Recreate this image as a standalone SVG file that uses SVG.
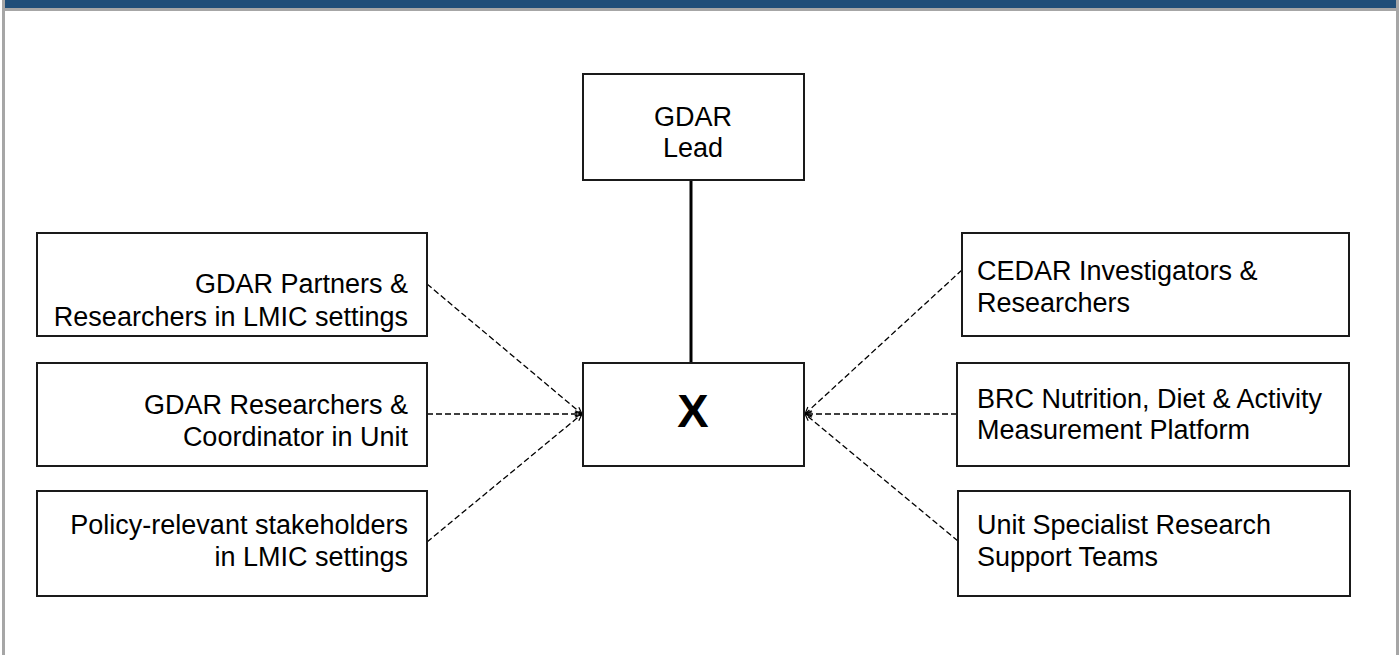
<svg xmlns="http://www.w3.org/2000/svg" width="1399" height="655" viewBox="0 0 1399 655">
<defs>
<style>
.box{fill:#fff;stroke:#1a1a1a;stroke-width:2}
.t{font-family:"Liberation Sans",Arial,sans-serif;font-size:27px;fill:#000}
.r{text-anchor:end}
.c{text-anchor:middle}
.dash{fill:none;stroke:#000;stroke-width:1.3;stroke-dasharray:6 3}
</style>
<marker id="arr" viewBox="0 0 10 10" refX="9.5" refY="5" markerWidth="8" markerHeight="8" markerUnits="userSpaceOnUse" orient="auto">
<path d="M1,1 L9.5,5 L1,9" fill="none" stroke="#000" stroke-width="1.5"/>
</marker>
</defs>
<rect x="0" y="0" width="1399" height="655" fill="#fff"/>
<g id="frame">
<rect x="5" y="0" width="1391" height="8" fill="#1f4e79"/>
<rect x="5" y="8" width="1391" height="3" fill="#a6a6a6"/>
<rect x="2" y="0" width="3" height="655" fill="#a6a6a6"/>
<rect x="1396" y="0" width="3" height="655" fill="#a6a6a6"/>
</g>
<g id="connectors">
<line x1="691" y1="180" x2="691" y2="363" stroke="#000" stroke-width="3"/>
<line class="dash" x1="427" y1="284" x2="582" y2="414" marker-end="url(#arr)"/>
<line class="dash" x1="427" y1="414" x2="582" y2="414" marker-end="url(#arr)"/>
<line class="dash" x1="427" y1="542" x2="582" y2="414" marker-end="url(#arr)"/>
<line class="dash" x1="962" y1="270" x2="805" y2="414" marker-end="url(#arr)"/>
<line class="dash" x1="957" y1="414" x2="805" y2="414" marker-end="url(#arr)"/>
<line class="dash" x1="958" y1="541" x2="805" y2="414" marker-end="url(#arr)"/>
</g>
<g id="lead">
<rect class="box" x="583" y="74" width="221" height="106"/>
<text class="t c" x="693" y="126">GDAR</text>
<text class="t c" x="693" y="157">Lead</text>
</g>
<g id="x">
<rect class="box" x="583" y="363" width="221" height="103"/>
<text x="693" y="427" font-family="Liberation Sans, Arial, sans-serif" font-size="47" font-weight="bold" text-anchor="middle">X</text>
</g>
<g id="left1">
<rect class="box" x="37" y="233" width="390" height="103"/>
<text class="t r" x="408" y="293">GDAR Partners &amp;</text>
<text class="t r" x="408" y="326">Researchers in LMIC settings</text>
</g>
<g id="left2">
<rect class="box" x="37" y="363" width="390" height="103"/>
<text class="t r" x="408" y="414">GDAR Researchers &amp;</text>
<text class="t r" x="408" y="446">Coordinator in Unit</text>
</g>
<g id="left3">
<rect class="box" x="37" y="491" width="390" height="105"/>
<text class="t r" x="408" y="534">Policy-relevant stakeholders</text>
<text class="t r" x="408" y="566">in LMIC settings</text>
</g>
<g id="right1">
<rect class="box" x="962" y="233" width="387" height="103"/>
<text class="t" x="977" y="280">CEDAR Investigators &amp;</text>
<text class="t" x="977" y="312">Researchers</text>
</g>
<g id="right2">
<rect class="box" x="957" y="363" width="392" height="103"/>
<text class="t" x="977" y="408">BRC Nutrition, Diet &amp; Activity</text>
<text class="t" x="977" y="439">Measurement Platform</text>
</g>
<g id="right3">
<rect class="box" x="958" y="491" width="392" height="105"/>
<text class="t" x="977" y="534">Unit Specialist Research</text>
<text class="t" x="977" y="566">Support Teams</text>
</g>
</svg>
